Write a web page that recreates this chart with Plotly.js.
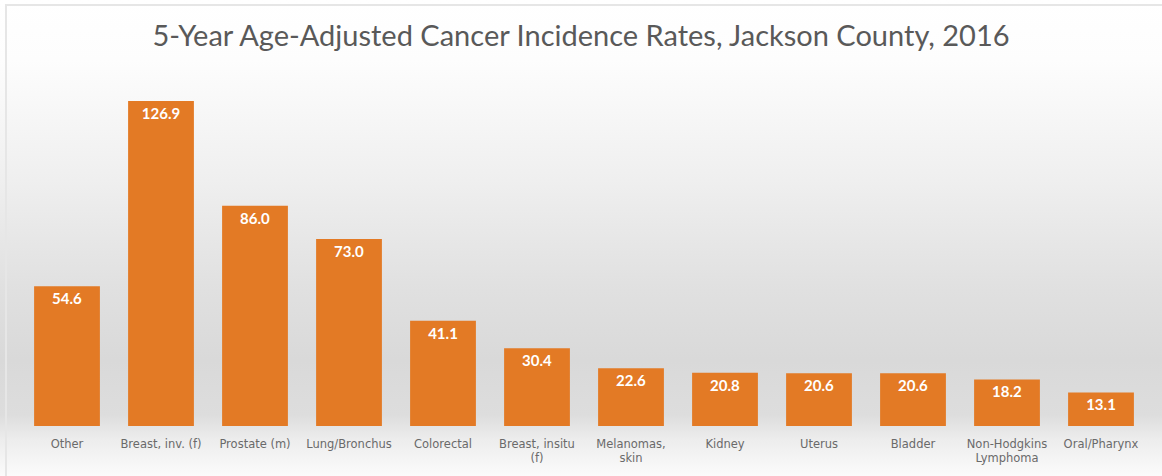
<!DOCTYPE html>
<html>
<head>
<meta charset="utf-8">
<script src="https://cdn.plot.ly/plotly-3.0.1.min.js"></script>
<style>
  html, body { margin: 0; padding: 0; background: #ffffff; }
  #wrap {
    position: absolute; left: 0; top: 0; width: 1162px; height: 476px;
    background: linear-gradient(to bottom, #ffffff 0px, #fdfdfd 60px, #efefef 180px, #e0e0e0 290px, #d9d9d9 360px, #dddddd 415px, #ededed 440px, #fbfbfb 476px);
  }
  #frame {
    position: absolute; left: 5px; top: 4px; width: 1162px; height: 480px;
    border-left: 2px solid #e6e6e6; border-top: 2px solid #e6e6e6; box-sizing: border-box;
    pointer-events: none;
  }
  #chart { position: absolute; left: 0; top: 0; width: 1162px; height: 476px; }
</style>
</head>
<body>
<div id="wrap"></div>
<div id="chart"></div>
<div id="frame"></div>
<script>
const categories = [
  "Other", "Breast, inv. (f)", "Prostate (m)", "Lung/Bronchus", "Colorectal",
  "Breast, insitu<br>(f)", "Melanomas,<br>skin", "Kidney", "Uterus", "Bladder",
  "Non-Hodgkins<br>Lymphoma", "Oral/Pharynx"
];
const rates = [54.6, 126.9, 86.0, 73.0, 41.1, 30.4, 22.6, 20.8, 20.6, 20.6, 18.2, 13.1];
const rateLabels = rates.map(v => v.toFixed(1));

const trace = {
  type: "bar",
  x: categories,
  y: rates,
  text: rateLabels,
  textposition: "inside",
  insidetextanchor: "end",
  textangle: 0,
  textfont: { family: "Lato, 'DejaVu Sans', sans-serif", size: 15, color: "#ffffff", weight: 700 },
  marker: { color: "#E37A25", line: { width: 0 } },
  hoverinfo: "skip",
  cliponaxis: false
};

const layout = {
  width: 1162, height: 476,
  paper_bgcolor: "rgba(0,0,0,0)",
  plot_bgcolor: "rgba(0,0,0,0)",
  margin: { l: 20, r: 14, t: 67, b: 50, pad: 0 },
  title: {
    text: "5-Year Age-Adjusted Cancer Incidence Rates, Jackson County, 2016",
    font: { family: "Lato, 'DejaVu Sans', sans-serif", size: 29, color: "#595959" },
    x: 0.5, xanchor: "center", y: 0.925, yanchor: "middle"
  },
  bargap: 0.3,
  showlegend: false,
  xaxis: {
    type: "category",
    showgrid: false, zeroline: false, showline: false,
    ticks: "", ticklen: 0,
    ticklabelstandoff: 9,
    tickfont: { family: "'DejaVu Sans', sans-serif", size: 11.5, color: "#6a6a6a" },
    tickangle: 0,
    automargin: false
  },
  yaxis: {
    range: [0, 140.2],
    visible: false, showgrid: false, zeroline: false, fixedrange: true
  },
  uniformtext: { mode: false }
};

Plotly.newPlot("chart", [trace], layout, { displayModeBar: false, staticPlot: true });
</script>
</body>
</html>
